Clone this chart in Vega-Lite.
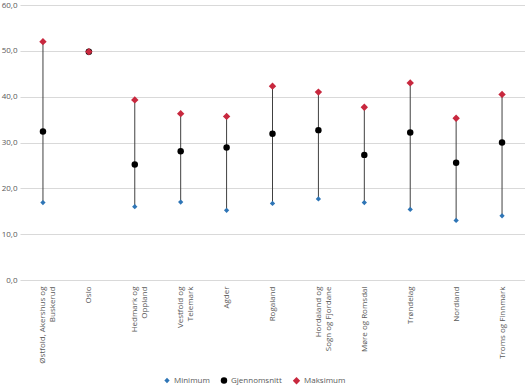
{
  "$schema": "https://vega.github.io/schema/vega-lite/v6.json",
  "width": 505,
  "height": 275,
  "autosize": {"type": "none"},
  "padding": {"left": 20, "top": 5, "right": 0, "bottom": 107},
  "background": "white",
  "config": {
    "view": {"stroke": null},
    "font": "Open Sans",
    "axis": {"labelFont": "Open Sans", "labelFontSize": 8, "labelColor": "#595959", "ticks": false, "domain": false},
    "legend": {"labelFont": "Open Sans", "labelFontSize": 8, "labelColor": "#595959"}
  },
  "data": {
    "values": [
      {"region": "Østfold, Akershus og Buskerud", "Minimum": 16.9, "Gjennomsnitt": 32.4, "Maksimum": 52.0},
      {"region": "Oslo", "Minimum": 49.8, "Gjennomsnitt": 49.8, "Maksimum": 49.8},
      {"region": "Hedmark og Oppland", "Minimum": 16.0, "Gjennomsnitt": 25.2, "Maksimum": 39.3},
      {"region": "Vestfold og Telemark", "Minimum": 17.0, "Gjennomsnitt": 28.1, "Maksimum": 36.3},
      {"region": "Agder", "Minimum": 15.2, "Gjennomsnitt": 28.9, "Maksimum": 35.7},
      {"region": "Rogaland", "Minimum": 16.7, "Gjennomsnitt": 31.9, "Maksimum": 42.3},
      {"region": "Hordaland og Sogn og Fjordane", "Minimum": 17.7, "Gjennomsnitt": 32.7, "Maksimum": 41.0},
      {"region": "Møre og Romsdal", "Minimum": 16.9, "Gjennomsnitt": 27.3, "Maksimum": 37.7},
      {"region": "Trøndelag", "Minimum": 15.4, "Gjennomsnitt": 32.2, "Maksimum": 43.0},
      {"region": "Nordland", "Minimum": 13.0, "Gjennomsnitt": 25.6, "Maksimum": 35.3},
      {"region": "Troms og Finnmark", "Minimum": 14.0, "Gjennomsnitt": 30.0, "Maksimum": 40.5}
    ]
  },
  "encoding": {
    "x": {
      "field": "region",
      "type": "nominal",
      "sort": null,
      "scale": {"type": "point", "padding": 0.5},
      "axis": {
        "title": null,
        "labelAngle": -90,
        "labelPadding": 6,
        "labelLimit": 0,
        "labelLineHeight": 10,
        "labelExpr": "datum.value == 'Østfold, Akershus og Buskerud' ? ['Østfold, Akershus og', 'Buskerud'] : datum.value == 'Hedmark og Oppland' ? ['Hedmark og', 'Oppland'] : datum.value == 'Vestfold og Telemark' ? ['Vestfold og', 'Telemark'] : datum.value == 'Hordaland og Sogn og Fjordane' ? ['Hordaland og', 'Sogn og Fjordane'] : datum.value"
      }
    }
  },
  "layer": [
    {
      "mark": {"type": "rule", "color": "#404040", "strokeWidth": 1},
      "encoding": {
        "y": {
          "field": "Minimum",
          "type": "quantitative",
          "scale": {"domain": [0, 60]},
          "axis": {
            "title": null,
            "values": [0, 10, 20, 30, 40, 50, 60],
            "grid": true,
            "gridColor": "#d9d9d9",
            "gridWidth": 1,
            "labelPadding": 3,
            "labelExpr": "replace(format(datum.value, '.1f'), '.', ',')"
          }
        },
        "y2": {"field": "Maksimum"}
      }
    },
    {
      "transform": [{"fold": ["Minimum", "Gjennomsnitt", "Maksimum"], "as": ["serie", "verdi"]}],
      "mark": {"type": "point", "filled": true, "opacity": 1},
      "encoding": {
        "y": {"field": "verdi", "type": "quantitative"},
        "color": {
          "field": "serie",
          "type": "nominal",
          "scale": {"domain": ["Minimum", "Gjennomsnitt", "Maksimum"], "range": ["#2E75B6", "#000000", "#C8283E"]},
          "legend": {
            "title": null,
            "orient": "none",
            "direction": "horizontal",
            "legendX": 143,
            "legendY": 371,
            "columnPadding": 10,
            "symbolOffset": 0,
            "labelOffset": 3
          }
        },
        "shape": {
          "field": "serie",
          "type": "nominal",
          "scale": {"domain": ["Minimum", "Gjennomsnitt", "Maksimum"], "range": ["diamond", "circle", "diamond"]}
        },
        "size": {
          "field": "serie",
          "type": "nominal",
          "scale": {"domain": ["Minimum", "Gjennomsnitt", "Maksimum"], "range": [28, 55, 24]}
        }
      }
    }
  ]
}
